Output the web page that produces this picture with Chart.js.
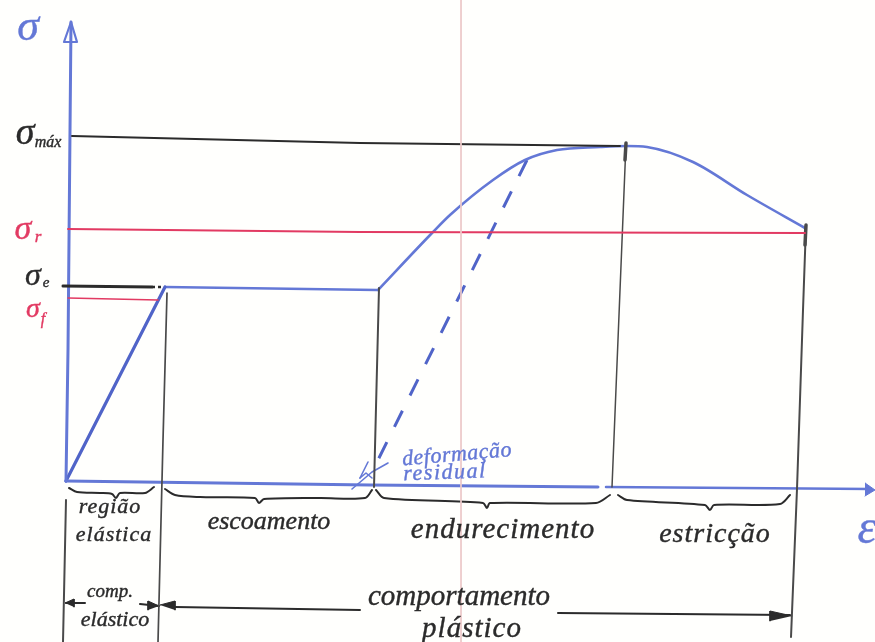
<!DOCTYPE html>
<html lang="pt">
<head>
<meta charset="utf-8">
<title>Curva tensão-deformação</title>
<style>html,body{margin:0;padding:0;background:#fffffd}#wrap{width:875px;height:642px}</style>
<script src="https://cdn.jsdelivr.net/npm/chart.js@4"></script>
</head>
<body>
<div id="wrap"><canvas id="c" width="875" height="642"></canvas></div>
<script>
// strain, stress pairs (origin of the diagram = 0,0)
const elastico     = [[0,0],[99,194]];
const escoamento   = [[99,194],[311,191]];
const encruamento  = [[312,191],[367,249],[384,266],[427,301],[459,321],[491,331],[534,334],[561,335],[581,334],[627,319],[681,286],[739,253]];
const descarga     = [[461,321],[307,11]];
const residual1    = [[286,-8],[306,9],[322,18]];
const residual2    = [[294,3],[302,19]];
const residual3    = [[294,3],[300,8],[306,3]];

const eixoY        = [[0,0],[2,131],[5,459]];
const setaY        = [[5,459],[-2,439],[11,439],[5,459]];
const eixoX1       = [[0,0],[304,-4],[532,-6]];
const eixoX2       = [[540,-6],[804,-8]];
const setaX        = [[799,-2],[809,-9],[799,-15]];

const sigmaMax     = [[6,345],[294,338],[554,335]];
const sigmaR       = [[2,252],[294,249],[739,248]];
const sigmaE       = [[-3,195],[86,194]];
const sigmaEPont   = [[86,194],[97,194]];
const sigmaF       = [[2,183],[92,181]];

const vert0 = [[0,-19],[-3,-161]];
const vert1 = [[101,188],[97,41],[92,-161]];
const vert2 = [[313,193],[308,-6]];
const vert3 = [[560,338],[546,-6]];
const vert3Topo = [[560,338],[559,321]];
const vert4 = [[740,256],[737,171],[731,-8],[725,-156]];
const vert4Topo = [[740,256],[739,236]];

const chave1 = [[3,-7],[11,-11],[34,-12],[46,-13],[50,-17],[54,-12],[79,-12],[88,-6]];
const chave2 = [[99,-8],[109,-14],[134,-16],[189,-17],[193,-22],[198,-18],[254,-17],[299,-17],[306,-9]];
const chave3 = [[310,-9],[318,-17],[417,-22],[421,-27],[424,-22],[530,-22],[544,-14]];
const chave4 = [[552,-14],[561,-19],[639,-24],[644,-29],[648,-24],[714,-23],[724,-14]];

const compEsq   = [[19,-122],[0,-122]];
const compEsqP  = [[-1,-122],[8,-118],[8,-126]];
const compDir   = [[74,-123],[93,-125]];
const compDirP  = [[93,-125],[82,-120],[82,-129]];
const plastEsq  = [[109,-126],[294,-129]];
const plastEsqP = [[94,-124],[109,-120],[109,-129]];
const plastDir  = [[492,-132],[724,-134]];
const plastDirP = [[726,-135],[704,-130],[704,-140]];

const margemPapel = [[395,481],[395,-161]];

const rotulos = ["σ","σ","máx","σ","r","σ","e","σ","f","ε",
  "região","elástica","escoamento","endurecimento","estricção",
  "comp.","elástico","comportamento","plástico","deformação","residual"];
const rotuloX = [-38,-41,-18,-43,-28,-33,-20,-33,-23,801,
  44,48,203,437,649,44,49,393,406,391,379];
const rotuloY = [453,347,338,251,243,204,198,171,161,-49,
  -26,-54,-41,-49,-54,-111,-139,-116,-148,26,8];
const rotuloTam = [44,38,16,34,17,32,15,28,16,48,
  22,22,26,29,28,19,22,29,29,22,22];
const rotuloEsp = [0,0,0,0,0,0,0,0,0,0,
  1,1,0,1,1,0,0,0,1,0.5,1.5];
const rotuloGiro = [0,0,0,0,0,0,0,0,0,0,
  0,0,0,0,0,0,0,0,0,-5,-2];
const rotuloCor = ["blue","ink","ink","red","red","ink","ink","red","red","blue",
  "ink","ink","ink","ink","ink","ink","ink","ink","ink","blue","blue"];

const cores = {blue:"#6478d6", dark:"#5064c8", ink:"#2b2b2b", red:"#e23a62", pink:"#ecc9c9", grey:"#4a4a4a"};

const pts = a => a.map(p => ({x:p[0], y:p[1]}));
const traco = (a, cor, w, extra) => Object.assign({
  data: pts(a), showLine:true, pointRadius:0, borderColor:cor, borderWidth:w,
  backgroundColor:cor, fill:false, tension:0, borderCapStyle:"round", borderJoinStyle:"round"
}, extra||{});
const ponta = (a, cor) => traco(a, cor, 1, {fill:"shape"});

const textos = {
  id:"textos",
  afterDatasetsDraw(chart){
    const {ctx, scales:{x, y}} = chart;
    rotulos.forEach((t,i)=>{
      ctx.save();
      ctx.textAlign = "center";
      ctx.textBaseline = "middle";
      ctx.font = "italic " + rotuloTam[i] + "px 'Liberation Serif', serif";
      ctx.letterSpacing = rotuloEsp[i] + "px";
      ctx.fillStyle = cores[rotuloCor[i]];
      ctx.strokeStyle = cores[rotuloCor[i]];
      ctx.lineWidth = 0.4;
      ctx.translate(x.getPixelForValue(rotuloX[i]), y.getPixelForValue(rotuloY[i]));
      ctx.rotate(rotuloGiro[i] * Math.PI / 180);
      ctx.fillText(t, 0, 0);
      ctx.strokeText(t, 0, 0);
      ctx.restore();
    });
  }
};

new Chart(document.getElementById("c"), {
  type:"scatter",
  data:{datasets:[
    traco(margemPapel, cores.pink, 1),
    traco(sigmaMax, cores.ink, 2),
    traco(sigmaR, cores.red, 2),
    traco(sigmaE, cores.ink, 3),
    traco(sigmaEPont, cores.ink, 2.5, {borderDash:[3,3], borderCapStyle:"butt"}),
    traco(sigmaF, cores.red, 1.5),
    traco(vert0, cores.grey, 2),
    traco(vert1, cores.grey, 1.7),
    traco(vert2, cores.grey, 2),
    traco(vert3, cores.grey, 1.5),
    traco(vert3Topo, cores.grey, 3.5),
    traco(vert4, cores.grey, 2),
    traco(vert4Topo, cores.grey, 3.5),
    traco(eixoY, cores.blue, 3),
    traco(setaY, cores.blue, 2.2),
    traco(eixoX1, cores.blue, 3),
    traco(eixoX2, cores.blue, 2.5),
    ponta(setaX, cores.blue),
    traco(elastico, cores.dark, 3.2),
    traco(escoamento, cores.blue, 2.6),
    traco(encruamento, cores.blue, 2.6, {cubicInterpolationMode:"monotone"}),
    traco(descarga, cores.dark, 3, {borderDash:[18,17], borderCapStyle:"butt"}),
    traco(residual1, cores.blue, 1.6),
    traco(residual2, cores.blue, 1.6),
    traco(residual3, cores.blue, 1.6),
    traco(chave1, cores.ink, 2, {tension:0.3}),
    traco(chave2, cores.ink, 2, {tension:0.3}),
    traco(chave3, cores.ink, 2, {tension:0.3}),
    traco(chave4, cores.ink, 2, {tension:0.3}),
    traco(compEsq, cores.ink, 2),
    ponta(compEsqP, cores.ink),
    traco(compDir, cores.ink, 2),
    ponta(compDirP, cores.ink),
    traco(plastEsq, cores.ink, 2),
    ponta(plastEsqP, cores.ink),
    traco(plastDir, cores.ink, 2),
    ponta(plastDirP, cores.ink)
  ]},
  options:{
    responsive:false, animation:false, events:[],
    layout:{padding:0},
    plugins:{legend:{display:false}, tooltip:{enabled:false}, title:{display:false}},
    scales:{
      x:{type:"linear", display:false, min:-66, max:809},
      y:{type:"linear", display:false, min:-161, max:481}
    }
  },
  plugins:[textos]
});
</script>
</body>
</html>
